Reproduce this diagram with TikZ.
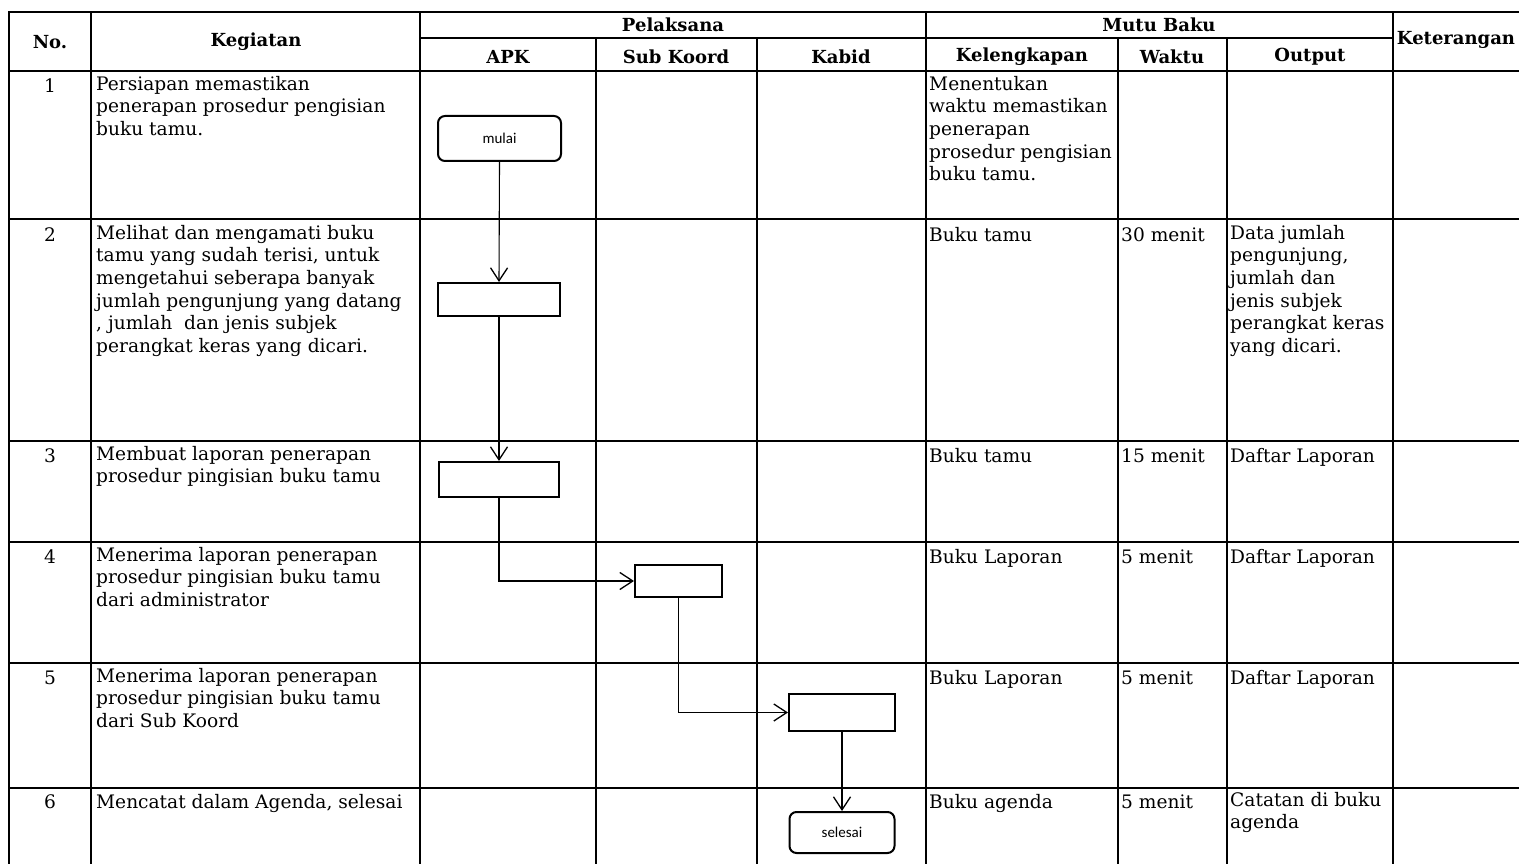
\documentclass[tikz,border=0pt]{standalone}
\usepackage{fontspec}
\setmainfont{DejaVu Serif}
\newfontfamily\flowfont{Carlito}
\usetikzlibrary{arrows.meta}
\newcommand\bodyfnt{\fontsize{18.6}{22.6}\selectfont}
\newcommand\headfnt{\fontsize{18}{20}\selectfont\bfseries}
\tikzset{
  tline/.style={line width=2.9pt, line cap=rect},
  body/.style={anchor=north west, inner sep=0pt, align=left, font=\bodyfnt, execute at begin node=\strut},
  numtxt/.style={anchor=north, inner sep=0pt, font=\bodyfnt, execute at begin node=\strut},
  head/.style={inner sep=0pt, font=\headfnt},
  flowbox/.style={draw, line width=2pt, inner sep=0pt, font=\flowfont\fontsize{15}{16}\selectfont},
  termbox/.style={flowbox, rounded corners=7pt},
  conn/.style={line width=1.1pt, -{Straight Barb[length=13pt,width=17pt,line width=1.3pt]}}
}
\begin{document}
\begin{tikzpicture}[x=1pt,y=-1pt]
\useasboundingbox (0,0) rectangle (1519,864);
% ---------- table grid ----------
\draw[tline] (9,12) -- (1519,12);
\draw[tline] (420,38) -- (1393,38);
\draw[tline] (9,71) -- (1519,71);
\foreach \y in {219,441,542,663,788} \draw[tline] (9,\y) -- (1519,\y);
\foreach \x in {9,91,420,926,1393} \draw[tline] (\x,12) -- (\x,864);
\foreach \x in {596,757,1118,1227} \draw[tline] (\x,38) -- (\x,864);
% ---------- header ----------
\node[head] (hno) at (50,42) {No.};
\node[head] (hkeg) at (256,42) {Kegiatan};
\node[head] (hpel) at (673,25) {Pelaksana};
\node[head] (hapk) at (508,57) {APK};
\node[head] (hsub) at (676,57) {Sub Koord};
\node[head] (hkab) at (841,57) {Kabid};
\node[head] (hmutu) at (1159,25) {Mutu Baku};
\node[head] (hkel) at (1022,57) {Kelengkapan};
\node[head] (hwak) at (1172,57) {Waktu};
\node[head] (hout) at (1310,57) {Output};
\node[head] (hket) at (1456,40) {Keterangan};
% ---------- numbers ----------
\node[numtxt] (n1) at (50,76) {1};
\node[numtxt] (n2) at (50,225) {2};
\node[numtxt] (n3) at (50,446) {3};
\node[numtxt] (n4) at (50,547) {4};
\node[numtxt] (n5) at (50,668) {5};
\node[numtxt] (n6) at (50,792) {6};
% ---------- kegiatan ----------
\node[body] (k1) at (96,76) {Persiapan memastikan\\penerapan prosedur pengisian\\buku tamu.};
\node[body] (k2) at (96,225) {Melihat dan mengamati buku\\tamu yang sudah terisi, untuk\\mengetahui seberapa banyak\\jumlah pengunjung yang datang\\, jumlah\ \ dan jenis subjek\\perangkat keras yang dicari.};
\node[body] (k3) at (96,446) {Membuat laporan penerapan\\prosedur pingisian buku tamu};
\node[body] (k4) at (96,547) {Menerima laporan penerapan\\prosedur pingisian buku tamu\\dari administrator};
\node[body] (k5) at (96,668) {Menerima laporan penerapan\\prosedur pingisian buku tamu\\dari Sub Koord};
\node[body] (k6) at (96,792) {Mencatat dalam Agenda, selesai};
% ---------- kelengkapan ----------
\node[body] (l1) at (929,76) {Menentukan\\waktu memastikan\\penerapan\\prosedur pengisian\\buku tamu.};
\node[body] (l2) at (929,225) {Buku tamu};
\node[body] (l3) at (929,446) {Buku tamu};
\node[body] (l4) at (929,547) {Buku Laporan};
\node[body] (l5) at (929,668) {Buku Laporan};
\node[body] (l6) at (929,792) {Buku agenda};
% ---------- waktu ----------
\node[body] (w2) at (1121,225) {30 menit};
\node[body] (w3) at (1121,446) {15 menit};
\node[body] (w4) at (1121,547) {5 menit};
\node[body] (w5) at (1121,668) {5 menit};
\node[body] (w6) at (1121,792) {5 menit};
% ---------- output ----------
\node[body] (o2) at (1230,225) {Data jumlah\\pengunjung,\\jumlah dan\\jenis subjek\\perangkat keras\\yang dicari.};
\node[body] (o3) at (1230,446) {Daftar Laporan};
\node[body] (o4) at (1230,547) {Daftar Laporan};
\node[body] (o5) at (1230,668) {Daftar Laporan};
\node[body] (o6) at (1230,792) {Catatan di buku\\agenda};
% ---------- flow ----------
\node[termbox, minimum width=123pt, minimum height=45pt] (mulai) at (499.5,138.5) {mulai};
\node[flowbox, minimum width=122pt, minimum height=33pt] (b2) at (499,299.5) {};
\node[flowbox, minimum width=120pt, minimum height=35pt] (b3) at (499,479.5) {};
\node[flowbox, minimum width=87pt, minimum height=32pt] (b4) at (678.5,581) {};
\node[flowbox, minimum width=106pt, minimum height=37pt] (b5) at (842,712.5) {};
\node[termbox, minimum width=105pt, minimum height=41pt] (selesai) at (842,832.5) {selesai};
\draw[conn] (mulai.south) -- (b2.north);
\draw[conn] (b2.south) -- (b3.north);
\draw[conn] (b3.south) |- (b4.west);
\draw[conn] (b4.south) |- (b5.west);
\draw[conn] (b5.south) -- (selesai.north);
\end{tikzpicture}
\end{document}
